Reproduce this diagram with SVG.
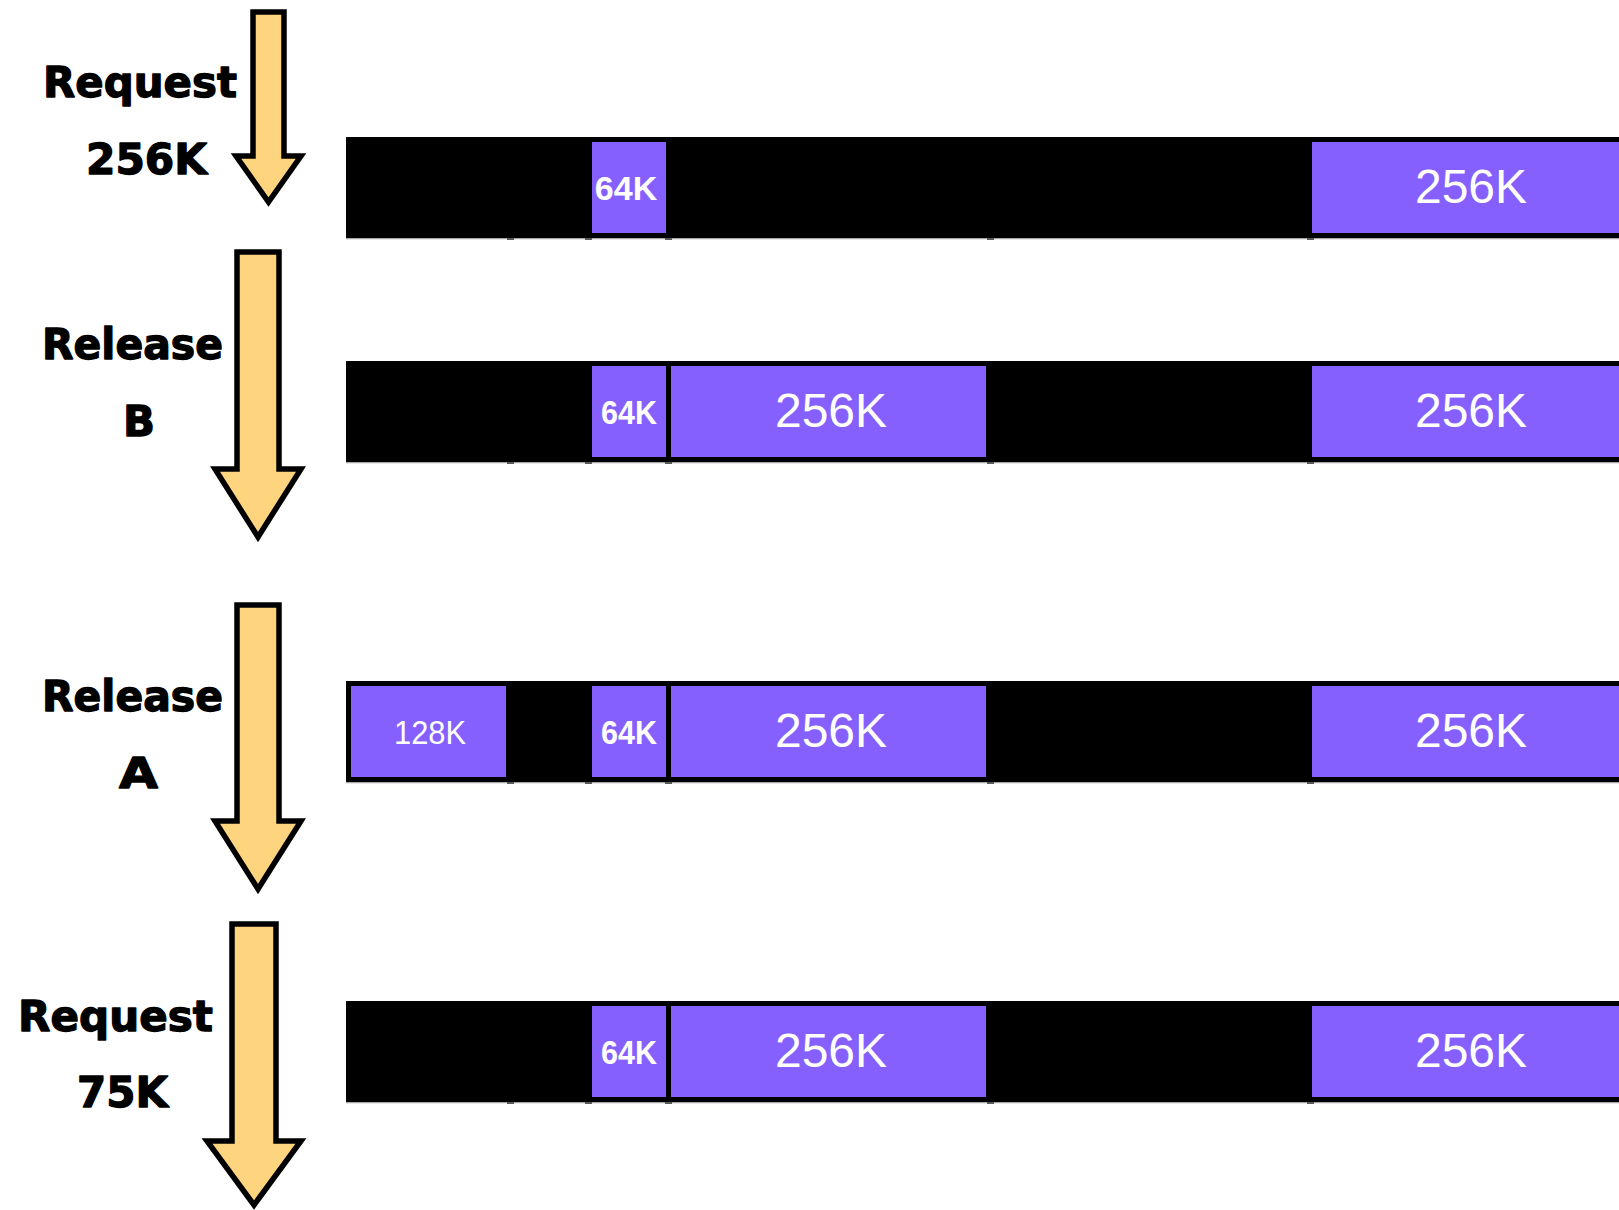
<svg xmlns="http://www.w3.org/2000/svg" width="1619" height="1210" viewBox="0 0 1619 1210">
  <style>
    .bar { fill: #000; }
    .base { stroke: #a8a8a8; stroke-width: 1.2; }
    .tick { fill: #5a5a5a; }
    .blk { fill: #8660ff; }
    .big { font-family: "Liberation Sans", Arial, sans-serif; font-size: 48px; fill: #fff; text-anchor: middle; }
    .small { font-family: "Liberation Sans", Arial, sans-serif; font-size: 34px; font-weight: bold; fill: #fff; text-anchor: middle; }
    .smallr { font-family: "Liberation Sans", Arial, sans-serif; font-size: 33px; fill: #fff; text-anchor: middle; }
    .lbl { font-family: "DejaVu Sans", "Liberation Sans", sans-serif; font-size: 43px; font-weight: bold; fill: #000; stroke: #000; stroke-width: 1.3; stroke-linejoin: round; }
    .arrow { fill: #ffd47e; stroke: #000; stroke-width: 5.5; stroke-linejoin: miter; stroke-miterlimit: 10; }
  </style>
  <defs>
    <!-- faint baseline and tick marks under each memory strip -->
    <g id="strip-base">
      <line class="base" x1="346" y1="0.6" x2="1619" y2="0.6"/>
      <rect class="tick" x="507" y="0" width="7" height="2"/>
      <rect class="tick" x="585" y="0" width="7" height="2"/>
      <rect class="tick" x="665" y="0" width="7" height="2"/>
      <rect class="tick" x="987" y="0" width="7" height="2"/>
      <rect class="tick" x="1307" y="0" width="7" height="2"/>
    </g>
  </defs>
  <rect width="1619" height="1210" fill="#fff"/>

  <!-- step labels -->
  <g id="label-request-256k">
    <text class="lbl" x="43" y="97" textLength="194" lengthAdjust="spacingAndGlyphs">Request</text>
    <text class="lbl" x="86" y="174" textLength="121" lengthAdjust="spacingAndGlyphs">256K</text>
  </g>
  <g id="label-release-b">
    <text class="lbl" x="42" y="359" textLength="181" lengthAdjust="spacingAndGlyphs">Release</text>
    <text class="lbl" x="123" y="436" textLength="32" lengthAdjust="spacingAndGlyphs">B</text>
  </g>
  <g id="label-release-a">
    <text class="lbl" x="42" y="711" textLength="181" lengthAdjust="spacingAndGlyphs">Release</text>
    <text class="lbl" x="119" y="788" textLength="39" lengthAdjust="spacingAndGlyphs">A</text>
  </g>
  <g id="label-request-75k">
    <text class="lbl" x="18" y="1031" textLength="195" lengthAdjust="spacingAndGlyphs">Request</text>
    <text class="lbl" x="77" y="1107" textLength="91" lengthAdjust="spacingAndGlyphs">75K</text>
  </g>

  <!-- memory strip 1 -->
  <g id="strip-1">
    <rect class="bar" x="346" y="137" width="1280" height="101"/>
    <use href="#strip-base" y="238"/>
    <rect class="blk" x="592" y="142" width="74" height="91"/>
    <text class="small" x="626" y="200">64K</text>
    <rect class="blk" x="1312" y="142" width="320" height="91"/>
    <text class="big" x="1471" y="203">256K</text>
  </g>

  <!-- memory strip 2 -->
  <g id="strip-2">
    <rect class="bar" x="346" y="361" width="1280" height="101"/>
    <use href="#strip-base" y="462"/>
    <rect class="blk" x="592" y="366" width="74" height="91"/>
    <text class="small" x="629" y="424" textLength="56" lengthAdjust="spacingAndGlyphs">64K</text>
    <rect class="blk" x="671" y="366" width="315" height="91"/>
    <text class="big" x="831" y="427">256K</text>
    <rect class="blk" x="1312" y="366" width="320" height="91"/>
    <text class="big" x="1471" y="427">256K</text>
  </g>

  <!-- memory strip 3 -->
  <g id="strip-3">
    <rect class="bar" x="346" y="681" width="1280" height="101"/>
    <use href="#strip-base" y="782"/>
    <rect class="blk" x="351" y="686" width="155" height="91"/>
    <text class="smallr" x="430" y="744" textLength="72" lengthAdjust="spacingAndGlyphs">128K</text>
    <rect class="blk" x="592" y="686" width="74" height="91"/>
    <text class="small" x="629" y="744" textLength="56" lengthAdjust="spacingAndGlyphs">64K</text>
    <rect class="blk" x="671" y="686" width="315" height="91"/>
    <text class="big" x="831" y="747">256K</text>
    <rect class="blk" x="1312" y="686" width="320" height="91"/>
    <text class="big" x="1471" y="747">256K</text>
  </g>

  <!-- memory strip 4 -->
  <g id="strip-4">
    <rect class="bar" x="346" y="1001" width="1280" height="101"/>
    <use href="#strip-base" y="1102"/>
    <rect class="blk" x="592" y="1006" width="74" height="91"/>
    <text class="small" x="629" y="1064" textLength="56" lengthAdjust="spacingAndGlyphs">64K</text>
    <rect class="blk" x="671" y="1006" width="315" height="91"/>
    <text class="big" x="831" y="1067">256K</text>
    <rect class="blk" x="1312" y="1006" width="320" height="91"/>
    <text class="big" x="1471" y="1067">256K</text>
  </g>

  <!-- block arrows between steps -->
  <g id="connectors">
    <path class="arrow" d="M253,12 H284 V156 H301 L268.5,202 L236,156 H253 Z"/>
    <path class="arrow" d="M237,252 H279 V469 H301 L258,537 L215,469 H237 Z"/>
    <path class="arrow" d="M237,605 H279 V821 H301 L258,889 L215,821 H237 Z"/>
    <path class="arrow" d="M232,924 H276 V1141 H301 L254,1205 L207,1141 H232 Z"/>
  </g>
</svg>
